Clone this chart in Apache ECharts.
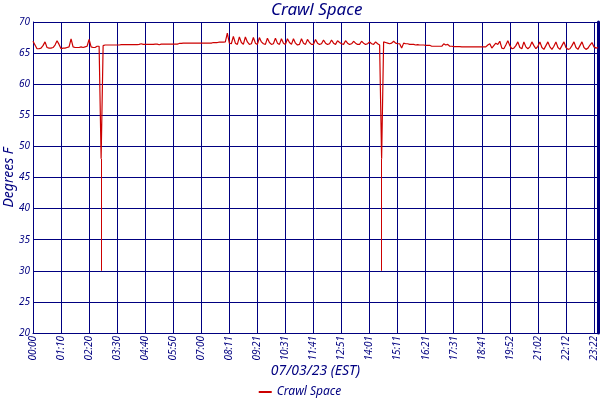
<!DOCTYPE html>
<html>
<head>
<meta charset="utf-8">
<title>Crawl Space</title>
<style>
  html, body { margin: 0; padding: 0; background: #fff; }
</style>
</head>
<body>
    <div id="main" style="width: 600px; height: 400px;"></div>

    <script src="https://cdn.jsdelivr.net/npm/echarts@6/dist/echarts.min.js"></script>

    <script type="text/javascript">
        // temperature readings, one every ~5 minutes through the day
        var temps = [
            66.9, 66.3, 65.7, 65.7, 65.8, 66.2, 66.8, 65.9, 65.8, 65.8,
            65.9, 66.3, 67.0, 66.4, 65.7, 65.8, 65.8, 65.9, 66.0, 67.3,
            66.0, 65.9, 65.9, 65.9, 66.0, 65.9, 66.0, 66.1, 67.2, 66.0,
            65.9, 65.9, 66.1, 66.1, 48.0, 66.2, 66.3, 66.3, 66.3, 66.3,
            66.3, 66.3, 66.3, 66.3, 66.35, 66.35, 66.35, 66.35, 66.35, 66.35,
            66.35, 66.35, 66.35, 66.4, 66.5, 66.4, 66.4, 66.4, 66.4, 66.4,
            66.4, 66.45, 66.45, 66.35, 66.45, 66.45, 66.45, 66.45, 66.45, 66.45,
            66.45, 66.45, 66.45, 66.55, 66.55, 66.6, 66.6, 66.6, 66.6, 66.6,
            66.6, 66.6, 66.6, 66.6, 66.6, 66.6, 66.6, 66.6, 66.6, 66.6,
            66.7, 66.7, 66.7, 66.75, 66.75, 66.75, 66.8, 68.2, 66.6, 66.5,
            67.7, 66.6, 66.4, 67.6, 66.7, 66.4, 67.6, 66.8, 66.4, 66.5,
            67.5, 66.6, 66.4, 67.5, 66.8, 66.5, 66.4, 67.4, 66.7, 66.4,
            66.5, 67.4, 66.6, 66.4, 67.3, 66.6, 66.4, 67.3, 66.7, 66.4,
            67.3, 66.6, 66.3, 66.4, 67.3, 66.6, 66.4, 67.2, 66.7, 66.4,
            66.4, 67.2, 66.6, 66.4, 66.5, 67.1, 66.6, 66.4, 66.5, 67.1,
            66.6, 66.4, 67.0, 66.7, 66.5, 66.4, 67.0, 66.6, 66.4, 66.5,
            66.9, 66.6, 66.4, 66.4, 66.9, 66.6, 66.4, 66.5, 66.8, 66.5,
            66.4, 66.8, 66.5, 66.3, 48.0, 66.8, 66.7, 66.6, 66.5, 66.6,
            66.9, 66.6, 66.5, 66.5, 65.8, 66.6, 66.5, 66.5, 66.4, 66.4,
            66.4, 66.3, 66.35, 66.3, 66.3, 66.3, 66.25, 66.25, 66.25, 66.1,
            66.1, 66.1, 66.1, 66.1, 66.1, 66.5, 66.3, 66.4, 66.1, 66.1,
            66.05, 66.05, 66.05, 66.05, 66.0, 66.0, 66.0, 66.0, 66.0, 66.0,
            66.0, 66.0, 66.0, 66.0, 66.0, 66.0, 66.0, 66.3, 66.5, 65.8,
            66.2, 66.6, 66.4, 66.9, 65.8, 65.7, 66.3, 67.0, 66.2, 65.7,
            65.8, 66.2, 66.8, 65.9, 65.7, 66.8, 66.0, 65.7, 66.0, 66.8,
            66.2, 65.7, 66.1, 66.8, 65.9, 65.6, 66.2, 66.8, 66.0, 65.6,
            66.1, 66.8, 65.9, 65.6, 66.2, 66.8, 65.9, 65.6, 65.7, 66.2,
            66.8, 65.9, 65.6, 66.2, 66.8, 65.9, 65.6, 65.8, 66.3, 66.7,
            66.0, 65.8, 65.9
        ];

        // the two bad readings that fell all the way to 30
        var dipIndex = [34, 174];
        var dipLow = [30, 30];

        // labelled times, one every 14 readings, plus the last reading
        var tickLabels = ['00:00', '01:10', '02:20', '03:30', '04:40', '05:50', '07:00',
            '08:11', '09:21', '10:31', '11:41', '12:51', '14:01', '15:11', '16:21',
            '17:31', '18:41', '19:52', '21:02', '22:12', '23:22'];
        var lastLabel = '23:27';
        var labelStep = 14;

        var navy = '#000080';
        var red = '#cc0000';
        var font = 'Noto Sans';

        var cats = [];
        for (var i = 0; i < temps.length; i++) {
            cats.push(String(i));
        }
        var lastIdx = temps.length - 1;

        function showTick(idx) {
            return idx % labelStep === 0 || idx === lastIdx;
        }

        var dipLines = [];
        dipIndex.forEach(function(idx, k) {
            dipLines.push([
                { coord: [String(idx), temps[idx]] },
                { coord: [String(idx), dipLow[k]] }
            ]);
        });

        var myChart = echarts.init(document.getElementById('main'));

        var option = {
            animation: false,
            title: {
                text: 'Crawl Space',
                left: 266,
                top: -3,
                textStyle: {
                    color: navy,
                    fontFamily: font,
                    fontStyle: 'italic',
                    fontWeight: 'normal',
                    fontSize: 17
                }
            },
            legend: {
                bottom: -3,
                left: 'center',
                icon: 'rect',
                itemWidth: 13,
                itemHeight: 2,
                itemGap: 4,
                data: ['Crawl Space'],
                textStyle: {
                    color: navy,
                    fontFamily: font,
                    fontStyle: 'italic',
                    fontSize: 12
                }
            },
            grid: {
                left: 33,
                right: 2,
                top: 22,
                bottom: 67,
                containLabel: false,
                outerBoundsMode: 'none'
            },
            xAxis: {
                type: 'category',
                data: cats,
                boundaryGap: false,
                name: '07/03/23 (EST)',
                nameLocation: 'middle',
                nameGap: 31,
                nameMoveOverlap: false,
                nameTextStyle: {
                    color: navy,
                    fontFamily: font,
                    fontStyle: 'italic',
                    fontSize: 14
                },
                axisLine: { lineStyle: { color: navy, width: 1 } },
                axisTick: { show: false },
                axisLabel: {
                    interval: function(idx) { return showTick(idx); },
                    rotate: 90,
                    margin: 3,
                    color: navy,
                    fontFamily: font,
                    fontStyle: 'italic',
                    fontSize: 10,
                    formatter: function(val, idx) {
                        if (idx === lastIdx && idx % labelStep !== 0) return lastLabel;
                        return tickLabels[idx / labelStep];
                    }
                },
                splitLine: {
                    show: true,
                    interval: function(idx) { return showTick(idx); },
                    lineStyle: { color: navy, width: 1 }
                }
            },
            yAxis: [{
                type: 'value',
                min: 20,
                max: 70,
                interval: 5,
                name: 'Degrees F',
                nameLocation: 'middle',
                nameGap: 17,
                nameMoveOverlap: false,
                nameTextStyle: {
                    color: navy,
                    fontFamily: font,
                    fontStyle: 'italic',
                    fontSize: 14
                },
                axisLine: { show: true, lineStyle: { color: navy, width: 1 } },
                axisTick: { show: false },
                axisLabel: {
                    margin: 3,
                    color: navy,
                    fontFamily: font,
                    fontStyle: 'italic',
                    fontSize: 10
                },
                splitLine: { lineStyle: { color: navy, width: 1 } }
            }, {
                type: 'value',
                position: 'right',
                min: 20,
                max: 70,
                interval: 5,
                axisLine: { show: true, lineStyle: { color: navy, width: 3 } },
                axisTick: { show: false },
                axisLabel: { show: false },
                splitLine: { show: false }
            }],
            series: [{
                name: 'Crawl Space',
                type: 'line',
                data: temps,
                symbol: 'none',
                color: red,
                lineStyle: { color: red, width: 1.2 },
                markLine: {
                    silent: true,
                    symbol: 'none',
                    label: { show: false },
                    lineStyle: { color: red, width: 1, type: 'solid' },
                    data: dipLines
                }
            }]
        };

        myChart.setOption(option);
    </script>
</body>
</html>
